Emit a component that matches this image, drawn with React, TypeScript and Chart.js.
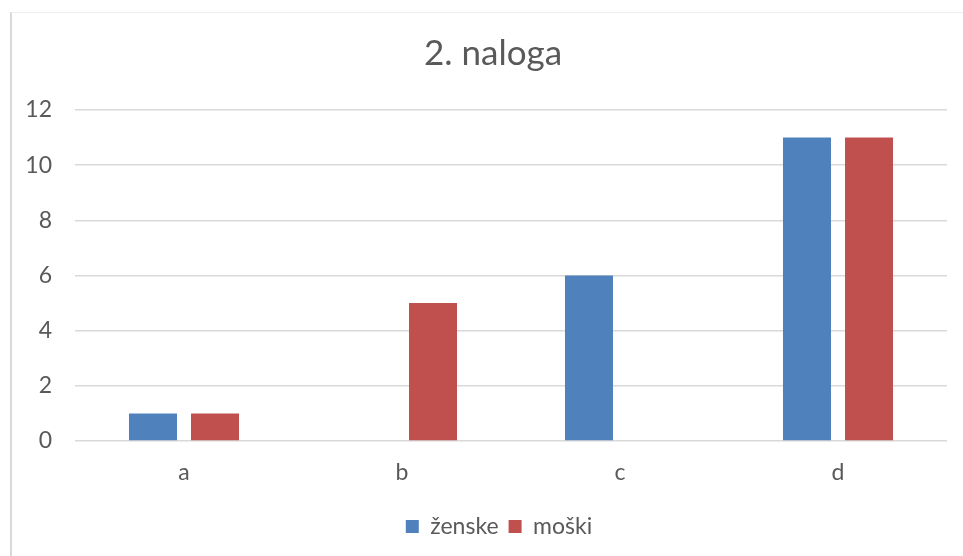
import React, { useEffect, useRef } from "react";
import { Chart, registerables } from "chart.js";

Chart.register(...registerables);

const categories = ["a", "b", "c", "d"];
const zenske = [1, 0, 6, 11];
const moski = [1, 5, 0, 11];
const seriesNames = ["ženske", "moški"];
const titleText = "2. naloga";

const FONT = "Lato, 'Open Sans', sans-serif";

// Centre title and legend on the whole chart frame (as the original does), not on the padded box.
const centerShift = {
  id: "centerShift",
  afterLayout(chart: any) {
    const t = chart.titleBlock;
    if (t) { t.left += 14; t.right += 14; }
    const l = chart.legend;
    if (l) { l.left += 20; l.right += 20; }
  },
};

export default function App() {
  const ref = useRef<HTMLCanvasElement>(null);
  useEffect(() => {
    if (!ref.current) return;
    const chart = new Chart(ref.current, {
      type: "bar",
      data: {
        labels: categories,
        datasets: [
          { label: seriesNames[0], data: zenske, backgroundColor: "#4F81BD", categoryPercentage: 0.569, barPercentage: 0.774 },
          { label: seriesNames[1], data: moski, backgroundColor: "#C0504D", categoryPercentage: 0.569, barPercentage: 0.774 },
        ],
      },
      plugins: [centerShift],
      options: {
        animation: false,
        responsive: false,
        layout: { padding: { left: 0, right: 28, top: 0, bottom: 8 } },
        plugins: {
          title: {
            display: true,
            text: titleText,
            color: "#595959",
            font: { family: FONT, size: 35, weight: "normal" },
            padding: { top: 21, bottom: 35 },
          },
          legend: {
            position: "bottom",
            labels: {
              color: "#595959",
              font: { family: FONT, size: 23 },
              boxWidth: 13,
              boxHeight: 13,
              padding: 10,
            },
          },
          tooltip: { enabled: false },
        },
        scales: {
          x: {
            afterFit: (s: any) => { s.height = 64; },
            grid: { display: false, drawTicks: false },
            border: { display: false },
            ticks: { color: "#595959", font: { family: FONT, size: 23 }, padding: 18 },
          },
          y: {
            min: 0,
            max: 12,
            afterFit: (s: any) => { s.width = 64; },
            grid: { color: "#d9d9d9", lineWidth: 1.5, drawTicks: false },
            border: { display: false },
            ticks: { stepSize: 2, color: "#595959", font: { family: FONT, size: 23 }, padding: 23 },
          },
        },
      },
    });
    return () => chart.destroy();
  }, []);
  return (
    <div style={{ position: "fixed", left: 0, top: 0, width: 963, height: 556, background: "#fff", overflow: "hidden" }}>
      <div style={{ position: "absolute", left: 10, top: 12, width: 1000, height: 1000, borderLeft: "2px solid #d9d9d9", borderTop: "1px solid #eeeeee" }} />
      <canvas ref={ref} width={964} height={544} style={{ position: "absolute", left: 11, top: 12 }} />
    </div>
  );
}
